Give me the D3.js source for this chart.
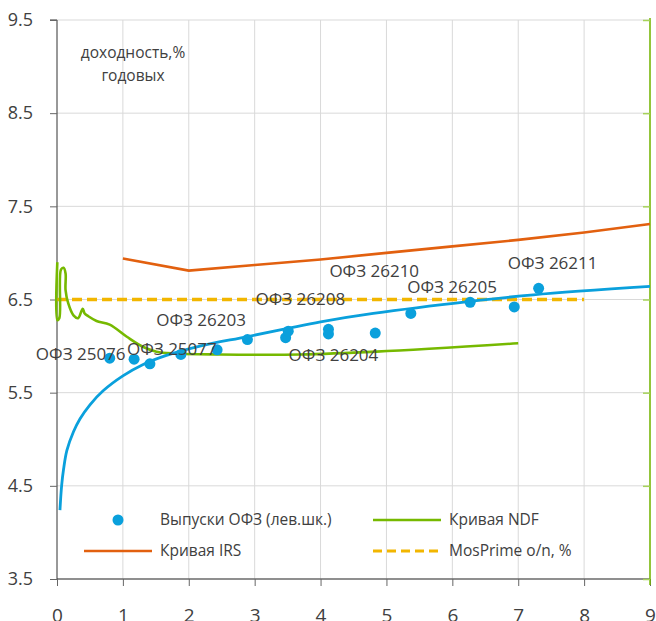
<!DOCTYPE html>
<html><head><meta charset="utf-8">
<script src="https://cdn.jsdelivr.net/npm/d3@7"></script>
<style>
body{margin:0;background:#fff}
svg{display:block}
text{font-family:"Open Sans","Noto Sans",sans-serif;fill:#404040}
</style>
</head><body>
<svg id="c" width="656" height="621"></svg>
<script>
// ---- data ----
const xTicks = [0,1,2,3,4,5,6,7,8,9];
const yTicks = [3.5,4.5,5.5,6.5,7.5,8.5,9.5];
const yTickLabels = ["3.5","4.5","5.5","6.5","7.5","8.5","9.5"];

// OFZ issues: maturity (years), yield (%)
const ofzMaturity = [0.80,1.17,1.41,1.88,2.43,2.89,3.47,3.51,4.12,4.12,4.83,5.37,6.27,6.94,7.31];
const ofzYield    = [5.87,5.86,5.81,5.91,5.96,6.07,6.09,6.16,6.18,6.13,6.14,6.35,6.47,6.42,6.62];

const labelNames = ["ОФЗ 25076","ОФЗ 25077","ОФЗ 26203","ОФЗ 26208","ОФЗ 26204","ОФЗ 26210","ОФЗ 26205","ОФЗ 26211"];
const labelPoint = [0,2,4,7,9,10,12,14];

// OFZ fitted curve
const fitX = [0.045,0.07,0.10,0.15,0.25,0.35,0.50,0.70,1.00,1.30,1.66,2.17,2.88,3.50,4.00,4.80,6.27,7.23,9.00];
const fitY = [4.24,4.50,4.68,4.88,5.08,5.22,5.37,5.52,5.68,5.80,5.90,6.00,6.10,6.19,6.26,6.35,6.48,6.55,6.64];

// IRS curve
const irsX = [1,2,3,4,5,6,7,8,9];
const irsY = [6.94,6.81,6.87,6.93,7.00,7.07,7.14,7.22,7.31];

// NDF curve
const ndfX = [0.005,0.005,0.035,0.06,0.10,0.13,0.13,0.17,0.25,0.32,0.39,0.42,0.475,0.60,0.80,1.06,1.31,1.51,1.77,2.47,3.69,4.85,7.0];
const ndfY = [6.90,6.28,6.30,6.82,6.84,6.78,6.60,6.46,6.33,6.30,6.40,6.35,6.32,6.27,6.23,6.10,5.99,5.94,5.92,5.91,5.91,5.94,6.03];

// MosPrime o/n
const mosX = [0,8];
const mosY = [6.5,6.5];

const legendNames = ["Выпуски ОФЗ (лев.шк.)","Кривая NDF","Кривая IRS","MosPrime o/n, %"];

// ---- styles ----
const C = {blue:"#0aa0dc", orange:"#e2600f", green:"#76b900", gold:"#f2b600", grid:"#d9d9d9", axis:"#333333"};
const labelOffsets = [[-29,2],[22,-9],[-16,-24],[12,-26],[5,27],[-1,-56],[-18,-9],[14,-19]];

const svg = d3.select("#c");
const M = {l:57, r:650, t:20, b:579};
const x = d3.scaleLinear().domain([0,9]).range([M.l,M.r]);
const y = d3.scaleLinear().domain([3.5,9.5]).range([M.b,M.t]);

// grid
const g = svg.append("g");
g.selectAll(".hg").data(yTicks).join("line")
  .attr("x1",M.l).attr("x2",M.r).attr("y1",d=>y(d)).attr("y2",d=>y(d))
  .attr("stroke",C.grid).attr("stroke-width",1);
g.selectAll(".vg").data(xTicks.slice(1)).join("line")
  .attr("x1",d=>x(d)).attr("x2",d=>x(d)).attr("y1",M.t).attr("y2",M.b)
  .attr("stroke",C.grid).attr("stroke-width",1);

// left axis
const yAxis = d3.axisLeft(y).tickValues(yTicks).tickFormat((d,i)=>yTickLabels[i]).tickSize(7).tickPadding(17);
const ya = svg.append("g").attr("transform",`translate(${M.l},0)`).call(yAxis);
ya.select(".domain").attr("stroke",C.axis).attr("d",`M-7,${M.t}H0V${M.b}`);
ya.selectAll(".tick line").attr("stroke","#666");
ya.selectAll("text").attr("font-size",18).attr("fill","#404040").attr("font-family","'Open Sans',sans-serif");

// bottom axis
const xAxis = d3.axisBottom(x).tickValues(xTicks).tickSize(7).tickPadding(23);
const xa = svg.append("g").attr("transform",`translate(0,${M.b})`).call(xAxis);
xa.select(".domain").attr("stroke",C.axis).attr("d",`M${M.l},0H${M.r}`);
xa.selectAll(".tick line").attr("stroke","#666");
xa.selectAll("text").attr("font-size",19).attr("fill","#404040").attr("font-family","'Open Sans',sans-serif");

// right axis (green)
const yAxisR = d3.axisLeft(y).tickValues(yTicks).tickFormat("").tickSize(7);
const yr = svg.append("g").attr("transform",`translate(${M.r},0)`).call(yAxisR);
yr.select(".domain").attr("stroke",C.green).attr("stroke-width",1.5).attr("d",`M0,${M.t-2}V${M.b+6}`);
yr.selectAll(".tick line").attr("stroke","#a6d25a").attr("stroke-width",1.5);

// MosPrime
svg.append("path").datum(mosX.map((d,i)=>[d,mosY[i]]))
  .attr("d",d3.line().x(d=>x(d[0])).y(d=>y(d[1])))
  .attr("fill","none").attr("stroke",C.gold).attr("stroke-width",3.5).attr("stroke-dasharray","10,5");

// IRS
svg.append("path").datum(irsX.map((d,i)=>[d,irsY[i]]))
  .attr("d",d3.line().x(d=>x(d[0])).y(d=>y(d[1])))
  .attr("fill","none").attr("stroke",C.orange).attr("stroke-width",2.6);

// NDF
svg.append("path").datum(ndfX.map((d,i)=>[d,ndfY[i]]))
  .attr("d",d3.line().x(d=>x(d[0])).y(d=>y(d[1])).curve(d3.curveCatmullRom.alpha(0.5)))
  .attr("fill","none").attr("stroke",C.green).attr("stroke-width",2.6).attr("stroke-linejoin","round");

// fit curve
svg.append("path").datum(fitX.map((d,i)=>[d,fitY[i]]))
  .attr("d",d3.line().x(d=>x(d[0])).y(d=>y(d[1])).curve(d3.curveCatmullRom.alpha(0.5)))
  .attr("fill","none").attr("stroke",C.blue).attr("stroke-width",2.8);

// dots
svg.selectAll(".dot").data(ofzMaturity).join("circle")
  .attr("cx",d=>x(d)).attr("cy",(d,i)=>y(ofzYield[i])).attr("r",5.5).attr("fill",C.blue);

// labels
svg.selectAll(".lbl").data(labelNames).join("text")
  .attr("x",(d,i)=>x(ofzMaturity[labelPoint[i]])+labelOffsets[i][0])
  .attr("y",(d,i)=>y(ofzYield[labelPoint[i]])+labelOffsets[i][1])
  .attr("text-anchor","middle").attr("font-size",17).text(d=>d);

// axis title
const at = svg.append("text").attr("text-anchor","middle").attr("font-size",15.5);
at.append("tspan").attr("x",133).attr("y",58).text("доходность,%");
at.append("tspan").attr("x",133).attr("y",81).text("годовых");

// legend
const lg = svg.append("g");
lg.append("circle").attr("cx",118).attr("cy",520).attr("r",5.5).attr("fill",C.blue);
lg.append("line").attr("x1",373).attr("x2",441).attr("y1",520).attr("y2",520).attr("stroke",C.green).attr("stroke-width",2.6);
lg.append("line").attr("x1",84).attr("x2",152).attr("y1",551).attr("y2",551).attr("stroke",C.orange).attr("stroke-width",2.6);
lg.append("line").attr("x1",373).attr("x2",441).attr("y1",551).attr("y2",551).attr("stroke",C.gold).attr("stroke-width",3).attr("stroke-dasharray","9,5");
const lpos = [[160,520],[449,520],[160,551],[449,551]];
lg.selectAll("text").data(legendNames).join("text")
  .attr("x",(d,i)=>lpos[i][0]).attr("y",(d,i)=>lpos[i][1]).attr("dy","0.35em")
  .attr("font-size",15.5).text(d=>d);
</script>
</body></html>
